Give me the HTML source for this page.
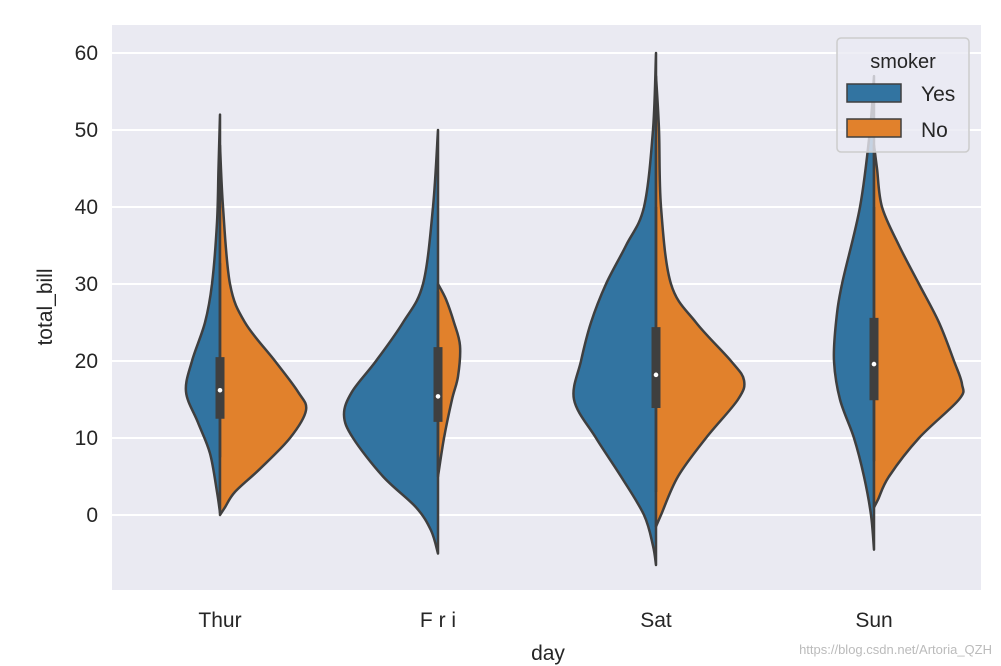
<!DOCTYPE html>
<html><head><meta charset="utf-8"><style>
body{margin:0;background:#fff;}
svg{display:block;font-family:"Liberation Sans","Noto Sans CJK SC",sans-serif;}
</style></head><body>
<svg id="s" width="1001" height="666" xmlns="http://www.w3.org/2000/svg">
<rect x="112" y="25" width="869" height="565" fill="#eaeaf2"/>
<g id="grid" stroke="#fff" stroke-width="2"></g>
<g id="v"></g>
<g fill="#262626" font-size="21" text-anchor="end">
<text x="98" y="60">60</text><text x="98" y="137">50</text><text x="98" y="214">40</text>
<text x="98" y="291">30</text><text x="98" y="368">20</text><text x="98" y="445">10</text><text x="98" y="522">0</text>
</g>
<g fill="#262626" font-size="21" text-anchor="middle">
<text x="220" y="627">Thur</text><text x="438" y="627">F r i</text><text x="656" y="627">Sat</text><text x="874" y="627">Sun</text>
<text x="548" y="660">day</text>
<text transform="translate(52,307) rotate(-90)">total_bill</text>
</g>
<g>
<rect x="837" y="38" width="132" height="114" rx="4" fill="#eaeaf2" fill-opacity="0.8" stroke="#ccc" stroke-width="1.5"/>
<text x="903" y="68" font-size="20" text-anchor="middle" fill="#262626">smoker</text>
<rect x="847" y="84" width="54" height="18" fill="#3274a1" stroke="#3f3f3f" stroke-width="1.5"/>
<rect x="847" y="119" width="54" height="18" fill="#e1812c" stroke="#3f3f3f" stroke-width="1.5"/>
<text x="921" y="101" font-size="21" fill="#262626">Yes</text>
<text x="921" y="137" font-size="21" fill="#262626">No</text>
</g>
<text x="992" y="654" font-size="13" fill="#bbb" text-anchor="end">https://blog.csdn.net/Artoria_QZH</text>
</svg>
<script>
const Y=v=>515-7.7*v;
const g=document.getElementById('grid');
for(let v=0;v<=60;v+=10){g.innerHTML+=`<line x1="112" x2="981" y1="${Y(v)}" y2="${Y(v)}"/>`;}
function path(cx,side,prof){
 let pts=prof.map(p=>[cx+side*p[1],Y(p[0])]);
 let d=`M${cx},${pts[0][1]} L${pts[0][0]},${pts[0][1]}`;
 for(let i=0;i<pts.length-1;i++){
  const p0=pts[Math.max(i-1,0)],p1=pts[i],p2=pts[i+1],p3=pts[Math.min(i+2,pts.length-1)];
  const c1=[p1[0]+(p2[0]-p0[0])/6,p1[1]+(p2[1]-p0[1])/6];
  const c2=[p2[0]-(p3[0]-p1[0])/6,p2[1]-(p3[1]-p1[1])/6];
  d+=` C${c1[0]},${c1[1]} ${c2[0]},${c2[1]} ${p2[0]},${p2[1]}`;
 }
 d+=` L${cx},${pts[pts.length-1][1]} Z`;
 return d;
}
const V=[
 [220,[[52,0],[45,1.5],[38,3],[30,8],[25,15],[20,28],[16,34],[12,22],[8,10],[3,3],[0.3,0]],
      [[48,0],[40,3],[30,10],[25,25],[20,55],[16,78],[13.6,86],[10,70],[6,40],[3,15],[1,5],[0,0]],[7.5,32.7,12.5,20.5,16.2]],
 [438,[[50,0],[40,5],[30,15],[25,35],[20,62],[16,86],[13,94],[10,85],[5,55],[1,22],[-2,7],[-5,0]],
      [[30,0],[28,8],[25,16],[22,22],[18,20],[15,14],[10,6],[5,0]],[5.8,29,12.1,21.8,15.4]],
 [656,[[60,0],[50,3],[40,12],[35,30],[30,50],[25,65],[20,75],[15,82],[10,60],[5,35],[0,12],[-4,3],[-6.5,0]],
      [[57,0],[50,3],[40,5],[30,15],[25,40],[20,75],[17.5,88],[15,82],[10,50],[5,22],[0,5],[-1.5,0]],[3,40,13.9,24.4,18.2]],
 [874,[[57,0],[50,4],[40,14],[30,32],[25,38],[20,40],[15,34],[10,20],[5,10],[0,3],[-4.5,0]],
      [[48,0],[45,3],[40,8],[35,25],[30,45],[25,65],[20,80],[17,88],[15,85],[10,45],[5,15],[2,4],[1,0]],[7,40,14.9,25.6,19.6]]
];
let h='';
for(const [cx,a,b,bx] of V){
 h+=`<path d="${path(cx,-1,a)}" fill="#3274a1" stroke="#3f3f3f" stroke-width="2.5" stroke-linejoin="round"/>`;
 h+=`<path d="${path(cx,1,b)}" fill="#e1812c" stroke="#3f3f3f" stroke-width="2.5" stroke-linejoin="round"/>`;
 h+=`<line x1="${cx}" x2="${cx}" y1="${Y(bx[1])}" y2="${Y(bx[0])}" stroke="#3f3f3f" stroke-width="2.5"/>`;
 h+=`<line x1="${cx}" x2="${cx}" y1="${Y(bx[3])}" y2="${Y(bx[2])}" stroke="#3f3f3f" stroke-width="9"/>`;
 h+=`<circle cx="${cx}" cy="${Y(bx[4])}" r="2.3" fill="#fff"/>`;
}
document.getElementById('v').innerHTML=h;
</script>
</body></html>
